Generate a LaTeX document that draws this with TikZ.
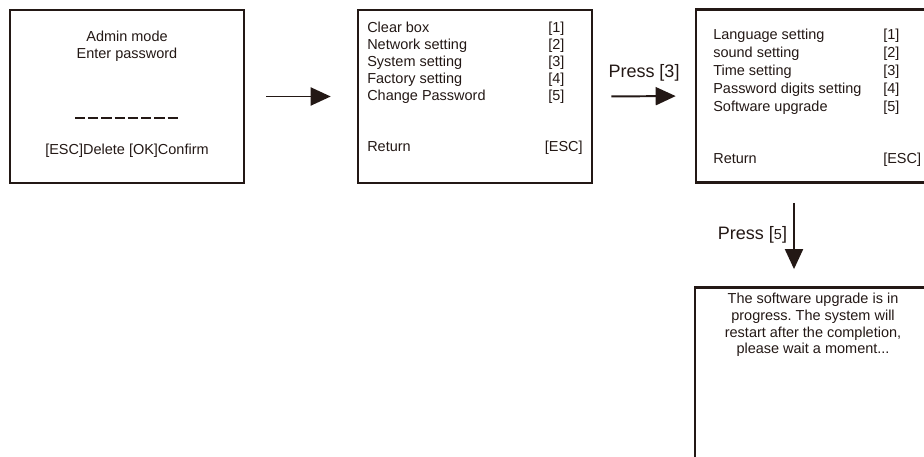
\documentclass[tikz,border=0pt]{standalone}
\usepackage{fontspec}
\setmainfont{Liberation Sans}
\usetikzlibrary{arrows.meta}
\definecolor{ink}{HTML}{231815}
\frenchspacing

\begin{document}
\begin{tikzpicture}[x=0.025cm, y=-0.025cm,
  every node/.style={font=\fontsize{10.3}{12.4}\selectfont, text=ink, inner sep=0pt},
  screen/.style={draw=ink, line width=1.8pt, minimum width=5.85cm, minimum height=4.33cm},
  item/.style={anchor=base west},
  flow/.style={draw=ink, line width=1.4pt, -{Triangle[length=0.5cm, width=0.45cm]}},
  press/.style={font=\fontsize{12.8}{15}\selectfont}]
  \useasboundingbox (0,0) rectangle (924,457);
  \clip (0,0) rectangle (924,457);

  % screens
  \node[screen] (login) at (127,96.5) {};
  \node[screen] (menu) at (475,96.5) {};
  \node[screen] (system) at (813,96) {};
  \node[screen, minimum width=5.9cm] (upgrade) at (813,374) {};

  % login screen
  \node[anchor=base] (admin) at (127,42) {Admin mode};
  \node[anchor=base] (enter) at (127,59) {Enter password};
  \draw[ink, line width=1.1pt, dash pattern=on 7.3pt off 2.1pt] (75,118) -- (178,118);
  \node[anchor=base] (keys) at (127,155) {[ESC]Delete [OK]Confirm};

  % main menu
  \foreach \txt [count=\i] in {Clear box, Network setting, System setting, Factory setting, Change Password}{
    \node[item] (menuitem\i) at (367,16+17*\i) {\txt};
    \node[item] (menukey\i) at (548,16+17*\i) {[\i]};
  }
  \node[item] (menuret) at (367,152) {Return};
  \node[item, anchor=base east] (menuesc) at (583,152) {[ESC]};

  % system setting
  \foreach \txt [count=\i] in {Language setting, sound setting, Time setting, Password digits setting, Software upgrade}{
    \node[item] (sysitem\i) at (713,22+18*\i) {\txt};
    \node[item] (syskey\i) at (883,22+18*\i) {[\i]};
  }
  \node[item] (sysret) at (713,164) {Return};
  \node[item] (sysesc) at (883,164) {[ESC]};

  % upgrade message
  \node[align=center, font=\fontsize{10.3}{11.9}\selectfont, anchor=north] (msg) at (813,293) {The software upgrade is in\\progress. The system will\\restart after the completion,\\please wait a moment...};

  % arrows
  \draw[flow, shorten <=0.525cm, shorten >=0.65cm] (login.east) -- (menu.west);
  \draw[flow, shorten <=0.45cm, shorten >=0.475cm] (menu.east) -- node[press, above=0.35cm] (press3) {Press [3]} (system.west);
  \draw[flow, shorten <=0.475cm, shorten >=0.425cm] ([xshift=-0.475cm]system.south) -- node[press, left=0.15cm] (press5) {Press [{\fontsize{10.3}{12}\selectfont 5}]} ([xshift=-0.475cm]upgrade.north);
\end{tikzpicture}
\end{document}
